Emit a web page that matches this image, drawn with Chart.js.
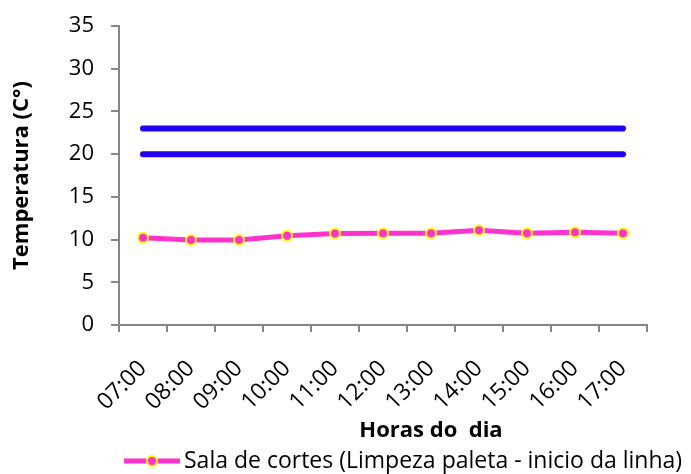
<!DOCTYPE html>
<html>
<head>
<meta charset="utf-8">
<script src="https://cdn.jsdelivr.net/npm/chart.js@4/dist/chart.umd.min.js"></script>
<style>
  html, body { margin: 0; padding: 0; background: #ffffff; }
  #wrap { width: 691px; height: 474px; }
</style>
</head>
<body>
<div id="wrap"><canvas id="c" width="691" height="474"></canvas></div>
<script>
// Hours of the day (category axis)
const hours = ['07:00', '08:00', '09:00', '10:00', '11:00', '12:00', '13:00', '14:00', '15:00', '16:00', '17:00'];
// Temperature measured in the cutting room (°C)
const salaCortes = [10.2, 9.95, 9.95, 10.45, 10.7, 10.75, 10.75, 11.1, 10.75, 10.85, 10.75];
// Reference limits (°C)
const limiteSuperior = [23, 23, 23, 23, 23, 23, 23, 23, 23, 23, 23];
const limiteInferior = [20, 20, 20, 20, 20, 20, 20, 20, 20, 20, 20];
// Value axis ticks
const yMin = 0, yMax = 35, yStep = 5;

const legendLabel = 'Sala de cortes (Limpeza paleta - inicio da linha)';
const xTitle = 'Horas do  dia';
const yTitle = 'Temperatura (C°)';

const FONT = '"Open Sans", "Liberation Sans", sans-serif';
const AXIS = '#868686';
const MAGENTA = '#ff33cc';
const YELLOW = '#ffff00';
const BLUE = '#2000f0';

// Horizontal axis title, centred under the labels
const xTitlePlugin = {
  id: 'xTitle',
  afterDraw(chart) {
    const ctx = chart.ctx;
    ctx.save();
    ctx.font = 'bold 22px ' + FONT;
    ctx.fillStyle = '#000';
    ctx.textAlign = 'center';
    ctx.textBaseline = 'middle';
    ctx.fillText(xTitle, 431, 431);
    ctx.restore();
  }
};

// Legend entry: line sample with marker, followed by the series name
const legendPlugin = {
  id: 'lineLegend',
  afterDraw(chart) {
    const ctx = chart.ctx;
    const y = 461;
    ctx.save();
    ctx.strokeStyle = MAGENTA;
    ctx.lineWidth = 5;
    ctx.lineCap = 'butt';
    ctx.beginPath();
    ctx.moveTo(124, y);
    ctx.lineTo(180, y);
    ctx.stroke();
    ctx.beginPath();
    ctx.arc(152, y, 5, 0, Math.PI * 2);
    ctx.fillStyle = MAGENTA;
    ctx.fill();
    ctx.lineWidth = 2;
    ctx.strokeStyle = YELLOW;
    ctx.stroke();
    ctx.font = '23px ' + FONT;
    ctx.fillStyle = '#000';
    ctx.textAlign = 'left';
    ctx.textBaseline = 'middle';
    ctx.fillText(legendLabel, 184, y);
    ctx.restore();
  }
};

new Chart(document.getElementById('c'), {
  type: 'line',
  data: {
    labels: hours,
    datasets: [
      {
        label: 'Limite superior',
        data: limiteSuperior,
        borderColor: BLUE,
        borderWidth: 6,
        borderCapStyle: 'round',
        pointRadius: 0,
        pointHoverRadius: 0,
        tension: 0
      },
      {
        label: 'Limite inferior',
        data: limiteInferior,
        borderColor: BLUE,
        borderWidth: 6,
        borderCapStyle: 'round',
        pointRadius: 0,
        pointHoverRadius: 0,
        tension: 0
      },
      {
        label: legendLabel,
        data: salaCortes,
        borderColor: MAGENTA,
        borderWidth: 5,
        pointRadius: 5,
        pointBackgroundColor: MAGENTA,
        pointBorderColor: YELLOW,
        pointBorderWidth: 2,
        tension: 0
      }
    ]
  },
  options: {
    responsive: false,
    animation: false,
    layout: { padding: { left: 0, right: 44, top: 26, bottom: 27 } },
    plugins: {
      legend: { display: false },
      tooltip: { enabled: false }
    },
    scales: {
      x: {
        type: 'category',
        offset: true,
        grid: {
          display: true,
          offset: true,
          drawOnChartArea: false,
          drawTicks: true,
          tickLength: 7,
          color: AXIS,
          lineWidth: 2
        },
        border: { display: true, color: AXIS, width: 2 },
        ticks: {
          color: '#000',
          font: { family: FONT, size: 23 },
          minRotation: 45,
          maxRotation: 45,
          autoSkip: false,
          padding: 23
        },
        afterFit(scale) { scale.height = 122; }
      },
      y: {
        min: yMin,
        max: yMax,
        grid: {
          display: true,
          drawOnChartArea: false,
          drawTicks: true,
          tickLength: 8,
          color: AXIS,
          lineWidth: 2
        },
        border: { display: true, color: AXIS, width: 2 },
        ticks: {
          stepSize: yStep,
          color: '#000',
          font: { family: FONT, size: 22 },
          padding: 17
        },
        title: {
          display: true,
          text: yTitle,
          color: '#000',
          font: { family: FONT, size: 22, weight: 'bold' },
          padding: { top: 9, bottom: 0 }
        },
        afterFit(scale) {
          scale.width = 119;
          scale.paddingTop = 0;
          scale.paddingBottom = 0;
        }
      }
    }
  },
  plugins: [xTitlePlugin, legendPlugin]
});
</script>
</body>
</html>
